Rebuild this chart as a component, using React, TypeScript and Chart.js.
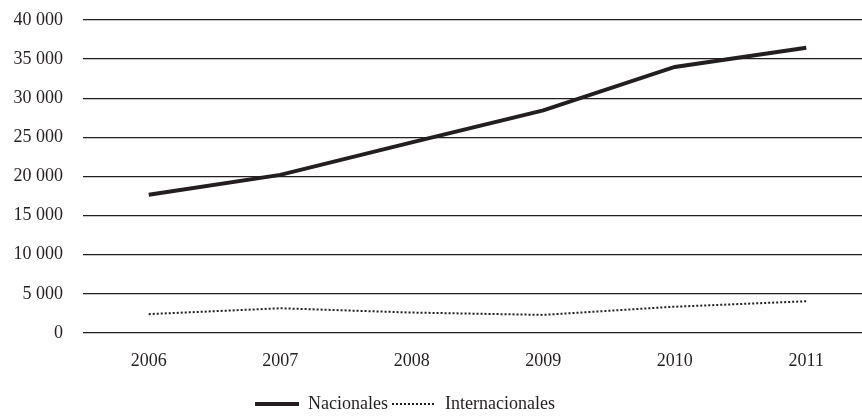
import React, { useEffect, useRef } from "react";
import { Chart, registerables } from "chart.js";

Chart.register(...registerables);

const years = ["2006", "2007", "2008", "2009", "2010", "2011"];
const nacionales = [17650, 20200, 24350, 28450, 34000, 36450];
const internacionales = [2400, 3150, 2600, 2300, 3350, 4050];
const yMin = 0;
const yMax = 40000;
const yStep = 5000;

const INK = "#231f20";
const FONT = "'Liberation Serif', 'DejaVu Serif', serif";
const DOTS = [2, 2];

const fmt = (v: number) => String(v).replace(/\B(?=(\d{3})+(?!\d))/g, " ");

export default function App() {
  const ref = useRef<HTMLCanvasElement | null>(null);

  useEffect(() => {
    if (!ref.current) return;
    const shiftLegend = {
      id: "shiftLegend",
      afterLayout(chart: any) {
        const lg = chart.legend;
        if (lg) {
          lg.left -= 31;
          lg.right -= 31;
          lg.top += 7;
          lg.bottom += 7;
        }
      },
    };
    const chart = new Chart(ref.current, {
      type: "line",
      data: {
        labels: years,
        datasets: [
          {
            label: "Nacionales",
            data: nacionales,
            borderColor: INK,
            backgroundColor: INK,
            borderWidth: 4,
            pointRadius: 0,
            tension: 0,
          },
          {
            label: "Internacionales",
            data: internacionales,
            borderColor: INK,
            backgroundColor: INK,
            borderWidth: 2,
            borderDash: DOTS,
            pointRadius: 0,
            tension: 0,
          },
        ],
      },
      options: {
        animation: false,
        responsive: true,
        maintainAspectRatio: false,
        layout: { padding: { top: 20, bottom: 0, left: 0, right: 0 } },
        plugins: {
          tooltip: { enabled: false },
          legend: {
            position: "bottom",
            labels: {
              color: INK,
              font: { family: FONT, size: 18 },
              usePointStyle: true,
              pointStyleWidth: 44,
              boxWidth: 44,
              boxHeight: 10,
              padding: 4,
              generateLabels(c: any) {
                return c.data.datasets.map((ds: any, i: number) => ({
                  text: ds.label,
                  fillStyle: "rgba(0,0,0,0)",
                  strokeStyle: INK,
                  lineWidth: i === 0 ? 4 : 2,
                  lineDash: i === 0 ? [] : DOTS,
                  lineCap: "butt",
                  pointStyle: "line",
                  hidden: false,
                  datasetIndex: i,
                  fontColor: INK,
                }));
              },
            },
          },
        },
        scales: {
          x: {
            offset: true,
            grid: { display: false, drawTicks: false },
            border: { display: false },
            ticks: {
              color: INK,
              font: { family: FONT, size: 18 },
              padding: 18,
              maxRotation: 0,
            },
            afterFit(scale: any) {
              scale.height = scale.height - 6.5;
            },
          },
          y: {
            min: yMin,
            max: yMax,
            grid: { color: INK, lineWidth: 1.3, drawTicks: false },
            border: { display: false },
            ticks: {
              stepSize: yStep,
              color: INK,
              font: { family: FONT, size: 18 },
              padding: 20,
              callback: (v: any) => fmt(Number(v)),
            },
            afterFit(scale: any) {
              scale.width = 83;
              scale.paddingTop = 11;
              scale.paddingBottom = 11;
            },
          },
        },
      },
      plugins: [shiftLegend],
    });
    return () => chart.destroy();
  }, []);

  return (
    <div
      style={{
        position: "fixed",
        left: 0,
        top: 0,
        width: 862,
        height: 416,
        overflow: "hidden",
        background: "#fff",
      }}
    >
      <div style={{ position: "relative", width: 872, height: 416 }}>
        <canvas ref={ref} />
      </div>
    </div>
  );
}
